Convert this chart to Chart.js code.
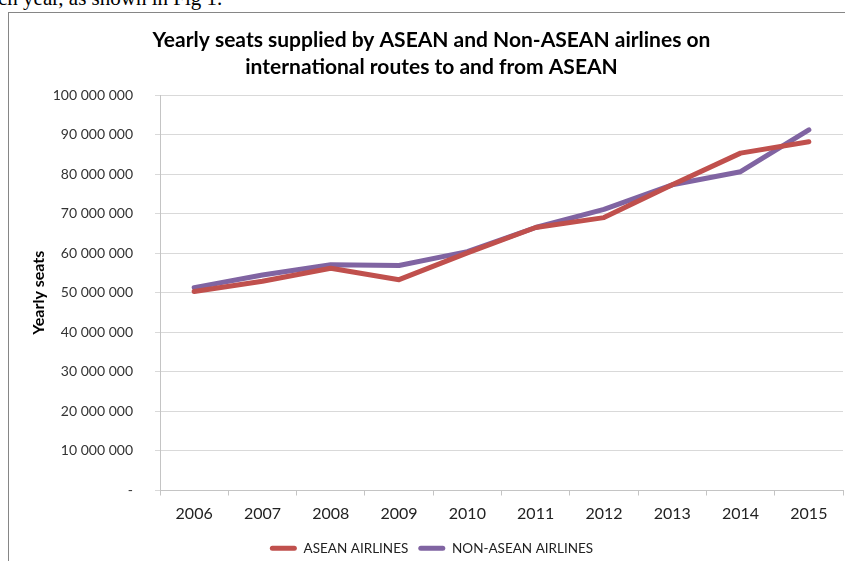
<!DOCTYPE html>
<html>
<head>
<meta charset="utf-8">
<script src="https://cdn.jsdelivr.net/npm/chart.js@4/dist/chart.umd.min.js"></script>
<style>
    body { margin: 0; background: #fff; width: 845px; height: 561px; overflow: hidden; position: relative; }
    #pageText { position: absolute; left: -2px; top: -14px; font: 21px "Liberation Serif", serif; color: #000; white-space: nowrap; }
    #frame { position: absolute; left: 8px; top: 12px; width: 900px; height: 600px; border: 1px solid #868686; }
    #wrap { position: absolute; left: 0; top: 0; width: 845px; height: 561px; }
</style>
</head>
<body>
<div id="pageText">ch year, as shown in Fig 1.</div>
<div id="frame"></div>
<div id="wrap"><canvas id="seatsChart"></canvas></div>
<script>
const years = ['2006', '2007', '2008', '2009', '2010', '2011', '2012', '2013', '2014', '2015'];
const aseanSeats = [50300000, 52900000, 56200000, 53300000, 60100000, 66500000, 69000000, 77300000, 85300000, 88200000];
const nonAseanSeats = [51300000, 54500000, 57100000, 56900000, 60400000, 66500000, 71100000, 77300000, 80600000, 91200000];
const titleLines = ['Yearly seats supplied by ASEAN and Non-ASEAN airlines on', 'international routes to and from ASEAN'];

function formatSeats(value) {
    if (value === 0) return '-';
    return String(value).replace(/\B(?=(\d{3})+(?!\d))/g, ' ');
}

const ctx = document.getElementById('seatsChart').getContext('2d');
const seatsChart = new Chart(ctx, {
    type: 'line',
    data: {
        labels: years,
        datasets: [{
            label: 'ASEAN AIRLINES',
            data: aseanSeats,
            borderColor: '#C0504D',
            backgroundColor: '#C0504D',
            borderWidth: 5,
            pointRadius: 0,
            borderJoinStyle: 'round',
            borderCapStyle: 'round',
            tension: 0
        }, {
            label: 'NON-ASEAN AIRLINES',
            data: nonAseanSeats,
            borderColor: '#8064A2',
            backgroundColor: '#8064A2',
            borderWidth: 5,
            pointRadius: 0,
            borderJoinStyle: 'round',
            borderCapStyle: 'round',
            tension: 0
        }]
    },
    options: {
        responsive: true,
        maintainAspectRatio: false,
        animation: false,
        layout: {
            padding: { left: 20, right: 2, top: 0, bottom: -4 }
        },
        scales: {
            x: {
                offset: true,
                grid: {
                    offset: true,
                    drawOnChartArea: false,
                    drawTicks: true,
                    tickLength: 5,
                    color: '#c4c4c4'
                },
                border: { color: '#c4c4c4' },
                ticks: {
                    padding: 9,
                    color: '#222',
                    font: { family: 'Lato', size: 16 }
                },
                afterFit: function(scale) { scale.height = 41; }
            },
            y: {
                min: 0,
                max: 100000000,
                grid: {
                    color: '#d9d9d9',
                    drawTicks: true,
                    tickLength: 5
                },
                border: { color: '#c4c4c4' },
                ticks: {
                    stepSize: 10000000,
                    padding: 22,
                    color: '#333',
                    font: { family: 'Lato', size: 14 },
                    callback: function(value) { return formatSeats(value); }
                },
                title: {
                    display: true,
                    text: 'Yearly seats',
                    color: '#000',
                    font: { family: 'Lato', size: 16, weight: 'bold' },
                    padding: { top: 9, bottom: 0 }
                },
                afterFit: function(scale) { scale.width = 140; }
            }
        },
        plugins: {
            title: {
                display: true,
                text: titleLines,
                color: '#000',
                font: { family: 'Lato', size: 21, weight: 'bold', lineHeight: '27px' },
                padding: { top: 27, bottom: 14 }
            },
            legend: {
                position: 'bottom',
                labels: {
                    boxWidth: 27,
                    boxHeight: 5,
                    padding: 10,
                    color: '#222',
                    font: { family: 'Lato', size: 13.5 },
                    useBorderRadius: true,
                    borderRadius: 2.5,
                    generateLabels: function(chart) {
                        return Chart.defaults.plugins.legend.labels.generateLabels(chart).map(function(item) {
                            item.lineWidth = 0;
                            item.fillStyle = item.strokeStyle;
                            return item;
                        });
                    }
                }
            },
            tooltip: { enabled: false }
        }
    }
});
</script>
</body>
</html>
